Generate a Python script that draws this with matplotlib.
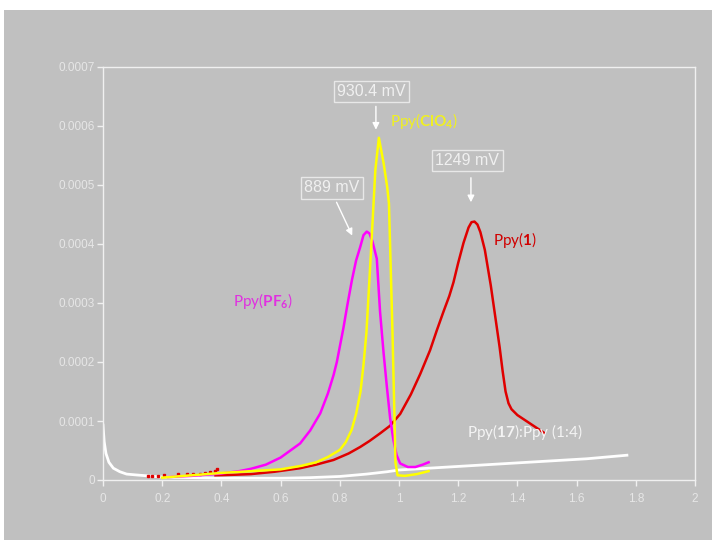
import matplotlib.pyplot as plt
from matplotlib.patches import Rectangle
from matplotlib.ticker import FuncFormatter, MultipleLocator

plt.rcParams['mathtext.fontset'] = 'custom'
plt.rcParams['mathtext.rm'] = 'Lato'
plt.rcParams['mathtext.bf'] = 'Lato:bold'

# potential (V) vs current (1e-4 A)
clo4_x = [0.20, 0.30, 0.40, 0.50, 0.60, 0.67, 0.72, 0.76, 0.80, 0.82, 0.84, 0.855, 0.87,
          0.88, 0.89, 0.905, 0.92, 0.932, 0.948, 0.96, 0.966, 0.972, 0.978, 0.984, 0.988,
          0.995, 1.02, 1.06, 1.10]
clo4_y = [0.04, 0.08, 0.12, 0.15, 0.18, 0.24, 0.30, 0.39, 0.51, 0.64, 0.85, 1.12, 1.50,
          1.95, 2.50, 3.84, 5.25, 5.80, 5.37, 4.97, 4.69, 3.6, 2.5, 1.2, 0.3,
          0.08, 0.07, 0.10, 0.15]

pf6_x = [0.22, 0.30, 0.40, 0.46, 0.50, 0.55, 0.60, 0.666, 0.70, 0.734, 0.76, 0.779,
         0.79, 0.812, 0.825, 0.841, 0.855, 0.869, 0.88, 0.891, 0.90, 0.91, 0.925, 0.936,
         0.948, 0.959, 0.97, 0.981, 0.992, 1.004, 1.03, 1.055, 1.08, 1.10]
pf6_y = [0.05, 0.07, 0.11, 0.15, 0.19, 0.26, 0.38, 0.62, 0.84, 1.13, 1.47, 1.78,
         2.0, 2.57, 2.95, 3.39, 3.72, 3.95, 4.15, 4.21, 4.18, 4.05, 3.75, 2.85,
         2.15, 1.58, 1.05, 0.68, 0.42, 0.28, 0.22, 0.22, 0.26, 0.30]

ppy1_x = [0.38, 0.45, 0.50, 0.58, 0.666, 0.72, 0.779, 0.83, 0.869, 0.90, 0.936, 0.97,
          1.004, 1.04, 1.072, 1.105, 1.128, 1.15, 1.17, 1.184, 1.20, 1.218, 1.235, 1.245,
          1.255, 1.265, 1.275, 1.29, 1.30, 1.31, 1.32, 1.33, 1.34, 1.35, 1.36, 1.37,
          1.38, 1.40, 1.43, 1.46, 1.49]
ppy1_y = [0.08, 0.09, 0.10, 0.14, 0.20, 0.26, 0.34, 0.45, 0.56, 0.66, 0.79, 0.92,
          1.12, 1.45, 1.80, 2.2, 2.54, 2.85, 3.12, 3.35, 3.68, 4.02, 4.28, 4.37,
          4.38, 4.33, 4.20, 3.90, 3.60, 3.30, 2.95, 2.60, 2.25, 1.85, 1.50, 1.30,
          1.20, 1.10, 1.00, 0.90, 0.80]
# scattered early points of the Ppy(1) run
ppy1_dots_x = [0.153, 0.165, 0.187, 0.206, 0.255, 0.283, 0.305, 0.328, 0.345, 0.362, 0.379, 0.386]
ppy1_dots_y = [0.068, 0.073, 0.073, 0.085, 0.097, 0.097, 0.10, 0.11, 0.12, 0.14, 0.15, 0.18]

mix_x = [0.0, 0.004, 0.01, 0.02, 0.035, 0.057, 0.08, 0.114, 0.2, 0.4, 0.6, 0.7, 0.8,
         0.89, 0.96, 1.0, 1.2, 1.4, 1.635, 1.77]
mix_y = [0.93, 0.65, 0.45, 0.30, 0.20, 0.14, 0.10, 0.085, 0.05, 0.03, 0.03, 0.04, 0.06,
         0.10, 0.14, 0.17, 0.23, 0.29, 0.36, 0.42]

def scale(vals):
    return [v * 1e-4 for v in vals]

bg = '#c0c0c0'
fig = plt.figure(figsize=(7.12, 5.4), dpi=100, facecolor='white')
fig.patches.append(Rectangle((4 / 712, 0), 1, 1 - 10 / 540, transform=fig.transFigure,
                             facecolor=bg, edgecolor='none', zorder=-10))
ax = fig.add_axes([103 / 712, 60 / 540, 592 / 712, 413 / 540])
ax.set_facecolor(bg)
ax.set_zorder(1)

ax.plot(mix_x, scale(mix_y), color='white', lw=2.0, solid_joinstyle='round')
ax.plot(ppy1_x, scale(ppy1_y), color='#e00000', lw=1.8, solid_joinstyle='round')
ax.plot(ppy1_dots_x, scale(ppy1_dots_y), 's', color='#e00000', ms=1.5, lw=0)
ax.plot(pf6_x, scale(pf6_y), color='#ff00ff', lw=1.8, solid_joinstyle='round')
ax.plot(clo4_x, scale(clo4_y), color='#ffff00', lw=1.8, solid_joinstyle='round')

ax.set_xlim(0, 2)
ax.set_ylim(0, 0.0007)
ax.xaxis.set_major_locator(MultipleLocator(0.2))
ax.yaxis.set_major_locator(MultipleLocator(0.0001))
ax.xaxis.set_major_formatter(FuncFormatter(lambda v, p: f'{v:g}'))
ax.yaxis.set_major_formatter(FuncFormatter(lambda v, p: '0' if abs(v) < 1e-9 else f'{v:.4f}'))
for s in ax.spines.values():
    s.set_color('#f0f0f0')
    s.set_linewidth(1)
ax.tick_params(colors='#f0f0f0', labelcolor='#e6e6e6', labelsize=8.5, length=4, width=1)
ax.tick_params(axis='x', pad=5)
ax.tick_params(axis='y', pad=2)
for lab in ax.get_xticklabels() + ax.get_yticklabels():
    lab.set_fontfamily('Liberation Sans')

box = dict(boxstyle='square,pad=0.2', facecolor='none', edgecolor='#e8e8e8', lw=1)
peak_font = dict(fontsize=11.5, color='#f0f0f0', family='Liberation Sans',
                 ha='center', va='center', bbox=box)
arrow = dict(arrowstyle='-|>', color='white', lw=1, mutation_scale=10)

ax.text(0.906, 6.58e-4, '930.4 mV', **peak_font)
ax.annotate('', xy=(0.922, 5.89e-4), xytext=(0.922, 6.38e-4), arrowprops=arrow)
ax.text(1.231, 5.42e-4, '1249 mV', **peak_font)
ax.annotate('', xy=(1.243, 4.66e-4), xytext=(1.243, 5.17e-4), arrowprops=arrow)
ax.text(0.773, 4.95e-4, '889 mV', **peak_font)
ax.annotate('', xy=(0.846, 4.10e-4), xytext=(0.785, 4.75e-4), arrowprops=arrow)

lab_font = dict(fontsize=11, family='Lato', ha='left', va='center')
ax.text(0.968, 6.08e-4, r'Ppy($\mathbf{ClO}_{\mathbf{4}}$)', color='#f0f020', **lab_font)
ax.text(1.317, 4.07e-4, r'Ppy($\mathbf{1}$)', color='#d00000', **lab_font)
ax.text(0.44, 3.03e-4, r'Ppy($\mathbf{PF}_{\mathbf{6}}$)', color='#e030e0', **lab_font)
ax.text(1.23, 0.82e-4, r'Ppy($\mathbf{17}$):Ppy (1:4)', color='#f4f4f4', **lab_font)

fig.savefig('out.png', dpi=100, facecolor=fig.get_facecolor())
